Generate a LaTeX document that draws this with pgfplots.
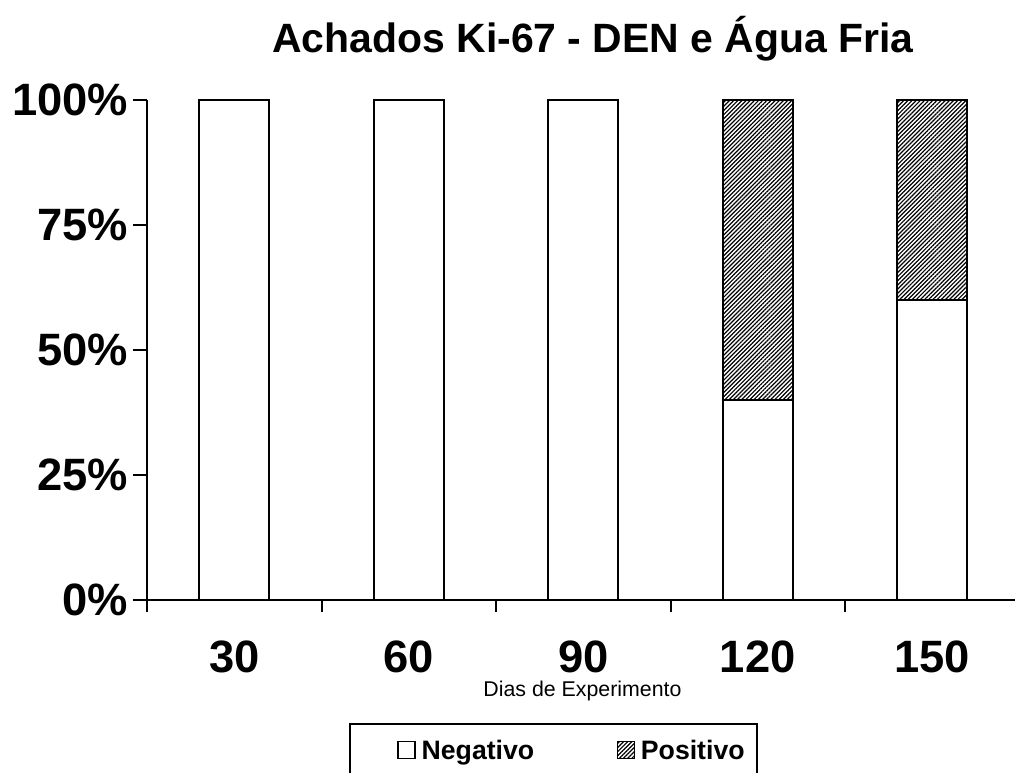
\documentclass[border=0pt]{standalone}
\usepackage{pgfplots}
\pgfplotsset{compat=1.18}
\usepackage{fontspec}
\setmainfont{Liberation Sans}
\usetikzlibrary{patterns.meta}
\begin{document}
\begin{tikzpicture}
\path[use as bounding box] (-110.25pt,-129pt) rectangle (651pt,450pt);
\begin{axis}[
  at={(0pt,0pt)}, anchor=south west,
  scale only axis, width=651pt, height=375pt,
  ybar stacked, bar width=52.5pt,
  xmin=-0.5, xmax=4.474, ymin=0, ymax=100,
  axis x line=bottom, axis y line=left,
  axis line style={line width=1.5pt, -},
  tick align=outside,
  xtick={0,1,2,3,4}, xticklabels={30,60,90,120,150},
  major x tick style={draw=none},
  minor xtick={-0.5,0.5,1.5,2.5,3.5},
  minor x tick style={line width=1.5pt, black},
  minor tick length=9pt,
  ytick={0,25,50,75,100}, yticklabels={0\%,25\%,50\%,75\%,100\%},
  y tick style={line width=1.5pt, black},
  major tick length=10.5pt,
  ticklabel style={font=\fontsize{34}{40}\selectfont\bfseries},
  yticklabel style={anchor=east, inner sep=0pt, xshift=-3.5pt},
  xticklabel style={anchor=base, inner sep=0pt, yshift=-43.5pt},
  legend columns=2,
  legend style={draw=black, line width=1.5pt, at={(0.2327,-0.246)}, anchor=north west,
    font=\fontsize{20}{24}\selectfont\bfseries,
    inner xsep=9pt, inner ysep=10pt,
    nodes={inner xsep=0pt, inner ysep=2pt},
    /tikz/every odd column/.append style={column sep=4.5pt},
    /tikz/every even column/.append style={column sep=35.25pt}},
  legend image code/.code={\path (0pt,-6pt) (26.25pt,6pt); \draw[#1, line width=1pt] (26.25pt,-6pt) rectangle (39pt,6.75pt);},
]
\addplot[draw=black, line width=1.5pt, fill=white] coordinates {(0,100) (1,100) (2,100) (3,40) (4,60)};
\addlegendentry{Negativo}
\addplot[draw=black, line width=1.5pt, pattern={Lines[angle=45, distance=2.2pt, line width=0.9pt]}, pattern color=black] coordinates {(0,0) (1,0) (2,0) (3,60) (4,40)};
\addlegendentry{Positivo}
\end{axis}
\node[anchor=base, font=\fontsize{30.7}{36}\selectfont\bfseries] at (334.5pt,410.25pt) {Achados Ki-67 - DEN e Água Fria};
\node[anchor=base, font=\fontsize{16}{19}\selectfont] at (326.6pt,-72pt) {Dias de Experimento};
\end{tikzpicture}
\end{document}
